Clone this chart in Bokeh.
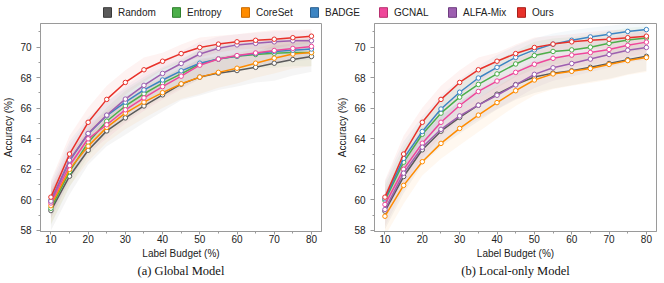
from bokeh.plotting import figure
from bokeh.layouts import column, row
from bokeh.models import (Legend, LegendItem, Title, Range1d, SingleIntervalTicker)
from bokeh.embed import file_html
from bokeh.resources import INLINE

# ---------------- data ----------------
budget = [10, 15, 20, 25, 30, 35, 40, 45, 50, 55, 60, 65, 70, 75, 80]
methods = ["Random", "Entropy", "CoreSet", "BADGE", "GCNAL", "ALFA-Mix", "Ours"]
colors = ["#5a5a5a", "#4caf4a", "#ff8c00", "#3d85c3", "#ef479a", "#9d5fb0", "#e8312a"]
edge_colors = ["#3a3a3a", "#2f7f2d", "#c96a00", "#2a5f8f", "#b8306f", "#6f3d80", "#a8201b"]

# (a) Global Model  -- mean accuracy (%)
a_random = [59.30, 61.55, 63.25, 64.52, 65.37, 66.15, 66.88, 67.58, 68.04, 68.30, 68.47, 68.68, 68.95, 69.19, 69.39]
a_entropy = [59.45, 61.85, 63.76, 65.15, 66.15, 66.95, 67.65, 68.25, 68.90, 69.22, 69.40, 69.52, 69.60, 69.65, 69.65]
a_coreset = [59.62, 62.00, 63.52, 64.75, 65.68, 66.40, 67.02, 67.60, 68.04, 68.35, 68.62, 68.95, 69.28, 69.55, 69.65]
a_badge = [59.96, 62.55, 64.32, 65.52, 66.40, 67.20, 67.85, 68.45, 68.95, 69.22, 69.42, 69.58, 69.72, 69.80, 69.88]
a_gcnal = [59.80, 62.25, 64.00, 64.92, 65.90, 66.68, 67.42, 68.10, 68.82, 69.22, 69.45, 69.62, 69.78, 69.92, 70.05]
a_alfamix = [59.92, 62.60, 64.35, 65.55, 66.60, 67.50, 68.28, 68.93, 69.55, 69.93, 70.15, 70.25, 70.35, 70.42, 70.42]
a_ours = [60.18, 63.00, 65.08, 66.58, 67.69, 68.52, 69.08, 69.58, 69.98, 70.20, 70.35, 70.45, 70.52, 70.62, 70.72]

# (a) standard deviations
a_random_sd = [1.30, 1.20, 0.95, 1.00, 1.10, 1.10, 1.10, 1.05, 1.20, 1.10, 1.05, 1.00, 1.15, 1.05, 1.00]
a_entropy_sd = [1.10, 1.00, 0.90, 0.90, 1.00, 0.95, 0.95, 0.90, 1.00, 0.95, 0.90, 0.90, 0.95, 0.90, 0.90]
a_coreset_sd = [1.20, 1.10, 1.00, 1.00, 1.05, 1.05, 1.00, 1.00, 1.10, 1.00, 1.00, 0.95, 1.00, 0.95, 0.90]
a_badge_sd = [1.20, 1.30, 1.10, 0.95, 0.90, 0.85, 0.85, 0.80, 0.85, 0.80, 0.80, 0.75, 0.75, 0.70, 0.70]
a_gcnal_sd = [1.00, 1.00, 0.95, 0.90, 0.90, 0.85, 0.85, 0.85, 0.90, 0.85, 0.80, 0.80, 0.80, 0.75, 0.75]
a_alfamix_sd = [1.00, 1.00, 0.90, 0.85, 0.85, 0.80, 0.80, 0.80, 0.80, 0.75, 0.70, 0.70, 0.70, 0.65, 0.65]
a_ours_sd = [1.10, 1.20, 0.95, 0.90, 0.80, 0.80, 0.55, 0.60, 0.65, 0.55, 0.50, 0.55, 0.60, 0.50, 0.45]

# (b) Local-only Model -- mean accuracy (%)
b_random = [59.26, 61.53, 63.28, 64.50, 65.40, 66.20, 66.92, 67.55, 68.05, 68.30, 68.45, 68.68, 68.93, 69.18, 69.40]
b_entropy = [59.96, 62.47, 64.30, 65.68, 66.73, 67.56, 68.25, 68.90, 69.45, 69.72, 69.82, 70.00, 70.25, 70.47, 70.60]
b_coreset = [58.93, 60.95, 62.50, 63.70, 64.68, 65.55, 66.37, 67.15, 67.85, 68.25, 68.42, 68.60, 68.87, 69.12, 69.32]
b_badge = [60.07, 62.72, 64.48, 65.95, 67.05, 67.98, 68.68, 69.33, 69.82, 70.20, 70.45, 70.67, 70.85, 71.03, 71.15]
b_gcnal = [59.70, 62.00, 63.71, 65.08, 66.18, 67.10, 67.78, 68.35, 68.88, 69.27, 69.48, 69.65, 69.85, 70.12, 70.33]
b_alfamix = [59.37, 61.75, 63.45, 64.62, 65.50, 66.20, 66.85, 67.53, 68.22, 68.65, 68.93, 69.22, 69.52, 69.80, 69.98]
b_ours = [60.18, 63.00, 65.08, 66.58, 67.69, 68.52, 69.08, 69.58, 69.98, 70.20, 70.35, 70.45, 70.52, 70.62, 70.72]

# (b) standard deviations
b_random_sd = [1.20, 1.10, 0.95, 1.00, 1.05, 1.05, 1.00, 1.00, 1.05, 1.00, 0.95, 0.95, 1.00, 0.95, 0.95]
b_entropy_sd = [1.00, 1.00, 0.90, 0.90, 0.95, 0.90, 0.90, 0.85, 0.90, 0.85, 0.85, 0.80, 0.80, 0.80, 0.75]
b_coreset_sd = [1.30, 1.20, 0.90, 1.00, 1.10, 1.10, 1.05, 1.00, 1.00, 1.00, 0.95, 0.95, 1.00, 0.95, 0.95]
b_badge_sd = [1.10, 1.10, 1.00, 0.90, 0.85, 0.80, 0.80, 0.75, 0.75, 0.70, 0.65, 0.60, 0.55, 0.50, 0.45]
b_gcnal_sd = [1.00, 1.00, 0.95, 0.90, 0.90, 0.85, 0.85, 0.80, 0.85, 0.80, 0.80, 0.80, 0.80, 0.75, 0.75]
b_alfamix_sd = [1.10, 1.05, 0.95, 0.95, 0.95, 0.90, 0.90, 0.90, 0.90, 0.85, 0.85, 0.85, 0.85, 0.80, 0.80]
b_ours_sd = [1.10, 1.20, 0.95, 0.90, 0.80, 0.80, 0.55, 0.60, 0.65, 0.55, 0.50, 0.55, 0.60, 0.50, 0.45]

x_ticks_interval = 10
y_ticks_interval = 2

a_means = [a_random, a_entropy, a_coreset, a_badge, a_gcnal, a_alfamix, a_ours]
a_sds = [a_random_sd, a_entropy_sd, a_coreset_sd, a_badge_sd, a_gcnal_sd, a_alfamix_sd, a_ours_sd]
b_means = [b_random, b_entropy, b_coreset, b_badge, b_gcnal, b_alfamix, b_ours]
b_sds = [b_random_sd, b_entropy_sd, b_coreset_sd, b_badge_sd, b_gcnal_sd, b_alfamix_sd, b_ours_sd]

SANS = "Liberation Sans"
SERIF = "Liberation Serif"
AXIS_GRAY = "#9a9a9a"


def make_panel(means, sds, caption, width, border_left, border_right):
    p = figure(width=width, height=262, output_backend="svg", toolbar_location=None,
               x_range=Range1d(7.2, 82.7), y_range=Range1d(57.93, 71.55),
               min_border_left=border_left, min_border_right=border_right,
               min_border_top=2, min_border_bottom=52)
    p.grid.visible = False
    p.outline_line_color = AXIS_GRAY
    p.outline_line_width = 1
    p.background_fill_color = "white"
    p.border_fill_color = "white"

    for m, s, c in zip(means, sds, colors):
        lo = [mv - sv for mv, sv in zip(m, s)]
        hi = [mv + sv for mv, sv in zip(m, s)]
        p.varea(x=budget, y1=lo, y2=hi, fill_color=c, fill_alpha=0.06)
    for m, c in zip(means, colors):
        p.line(budget, m, line_color=c, line_width=1.5)
        p.scatter(budget, m, marker="circle", size=4.5, fill_color="white",
                  line_color=c, line_width=1.0)

    p.xaxis.ticker = SingleIntervalTicker(interval=x_ticks_interval, num_minor_ticks=2)
    p.yaxis.ticker = SingleIntervalTicker(interval=y_ticks_interval, num_minor_ticks=2)
    for ax in (p.xaxis[0], p.yaxis[0]):
        ax.axis_line_color = AXIS_GRAY
        ax.major_tick_line_color = AXIS_GRAY
        ax.minor_tick_line_color = AXIS_GRAY
        ax.major_tick_in = 0
        ax.minor_tick_in = 0
        ax.major_tick_out = 4
        ax.minor_tick_out = 2
        ax.major_label_text_font = SANS
        ax.major_label_text_font_size = "10px"
        ax.major_label_text_color = "#222222"
        ax.axis_label_text_font = SANS
        ax.axis_label_text_font_size = "10px"
        ax.axis_label_text_font_style = "normal"
        ax.axis_label_text_color = "#222222"
    p.xaxis.axis_label = "Label Budget (%)"
    p.yaxis.axis_label = "Accuracy (%)"
    p.xaxis.major_tick_out = 3
    p.xaxis.major_label_standoff = 0
    p.xaxis.axis_label_standoff = 2
    p.yaxis.major_label_standoff = 5
    p.yaxis.axis_label_standoff = 3

    t = Title(text=caption, align="center", text_font=SERIF, text_font_size="12.5px",
              text_font_style="normal", text_color="#111111", standoff=0)
    p.add_layout(t, "below")
    return p


pa = make_panel(a_means, a_sds, "(a) Global Model", 330, 39, 9)
pb = make_panel(b_means, b_sds, "(b) Local-only Model", 334, 44, 8)

# legend strip
pl = figure(width=664, height=21, output_backend="svg", toolbar_location=None,
            x_range=Range1d(0, 1), y_range=Range1d(0, 1),
            min_border=0, outline_line_color=None)
pl.axis.visible = False
pl.grid.visible = False
items = []
for name, c, ec in zip(methods, colors, edge_colors):
    r = pl.quad(left=[2], right=[3], top=[3], bottom=[2], fill_color=c, line_color=ec, line_width=1)
    items.append(LegendItem(label=name, renderers=[r]))
leg = Legend(items=items, orientation="horizontal", location=(102, 3),
             glyph_width=10, glyph_height=12, label_width=53, spacing=0,
             label_standoff=6, padding=2, margin=0, border_line_color=None,
             background_fill_alpha=0, label_text_font=SANS, label_text_font_size="10px",
             label_text_color="#222222", label_height=12)
pl.add_layout(leg, "center")

layout = column(pl, row(pa, pb, spacing=0), spacing=0)

open("out.html", "w").write(file_html(layout, INLINE))
